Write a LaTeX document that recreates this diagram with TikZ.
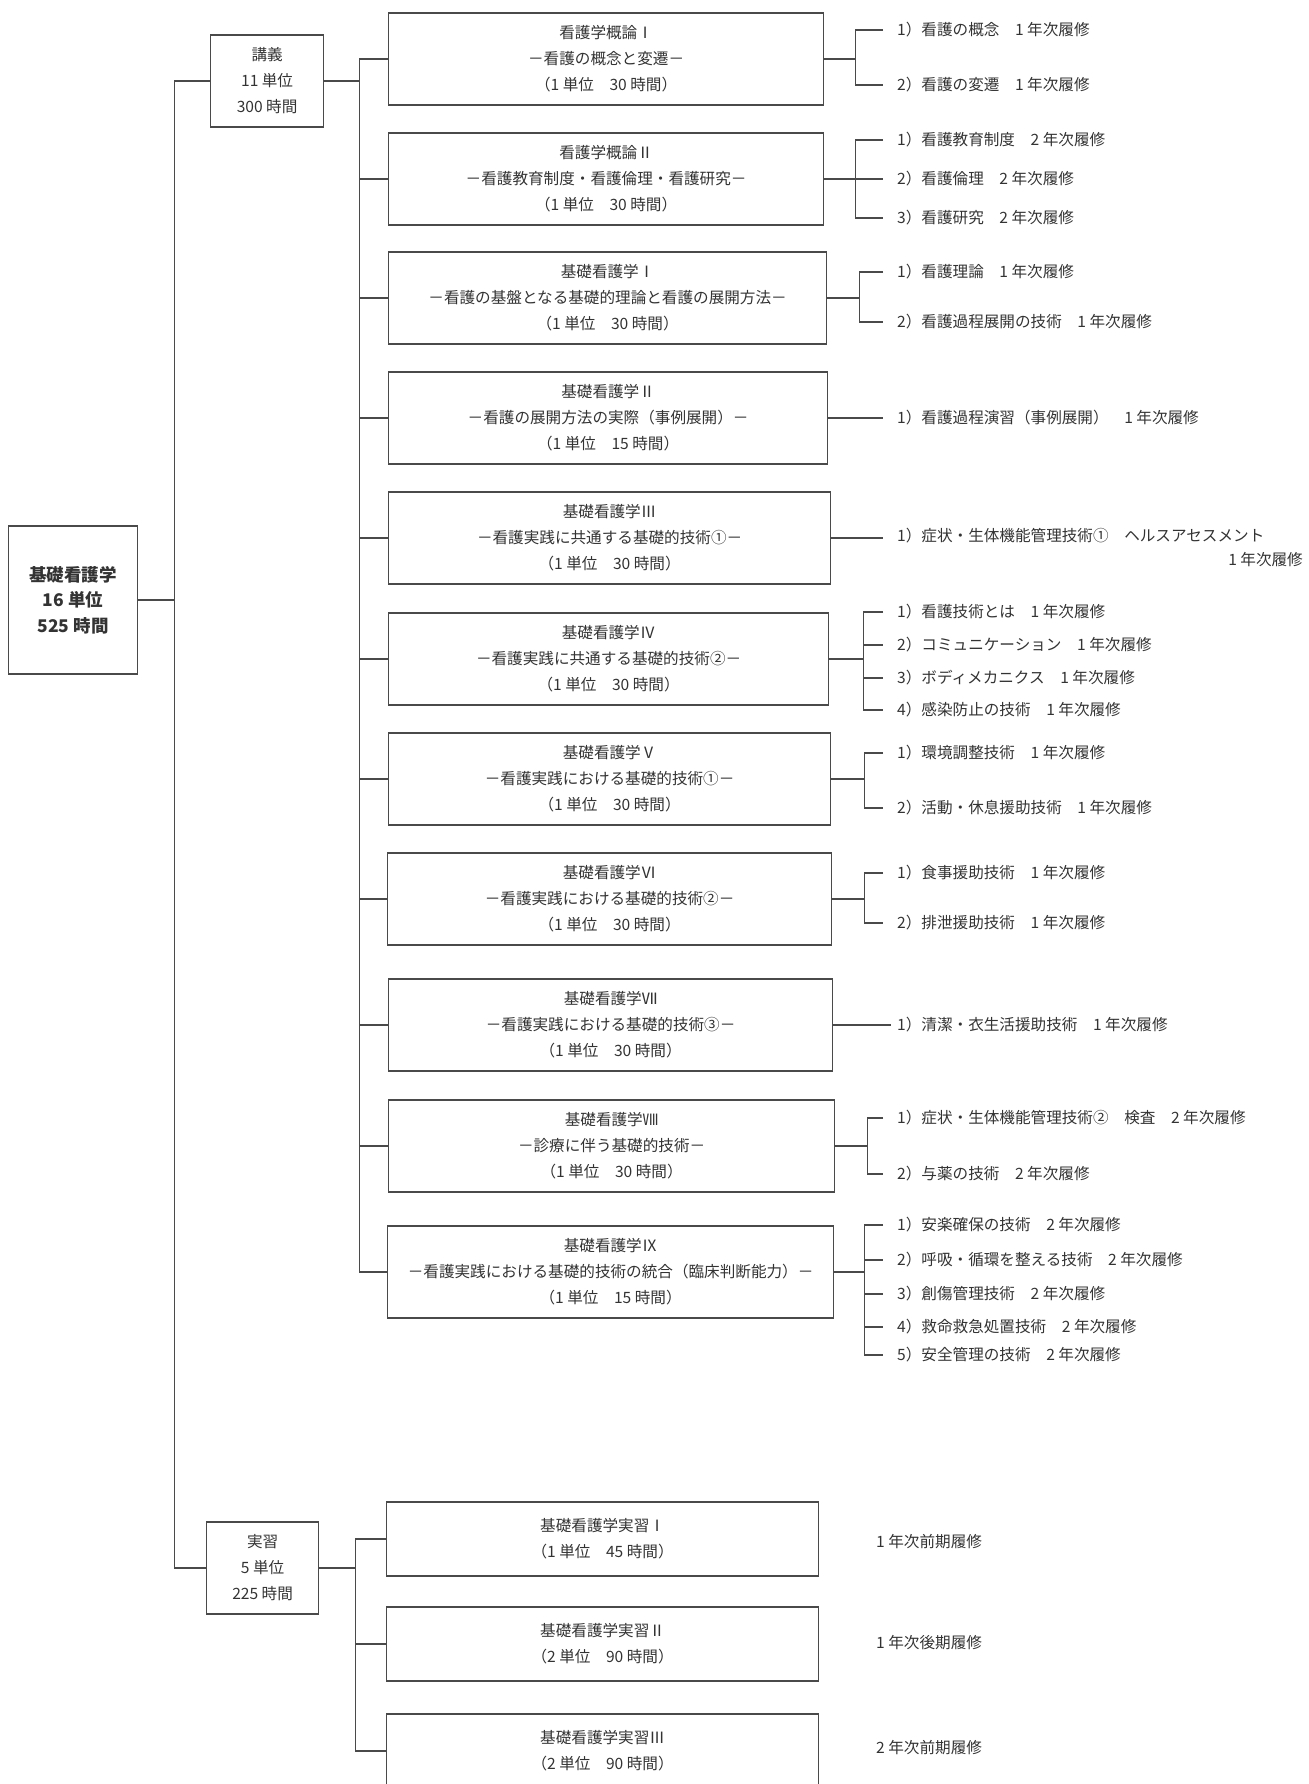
\documentclass[tikz,border=0pt]{standalone}
\usepackage{fontspec}
\setmainfont{Noto Sans CJK JP}
\usetikzlibrary{positioning}

\definecolor{senshoku}{HTML}{4A4A4A}
\definecolor{mojishoku}{HTML}{333333}

\tikzset{
  sen/.style={draw=senshoku, line width=1.1pt},
  waku/.style={draw=senshoku, line width=1.2pt, align=center, anchor=west,
    inner sep=2pt, text=mojishoku, font=\fontsize{15.6}{26}\selectfont},
  kamoku/.style={waku, minimum height=92pt},
  jisshubox/.style={waku, minimum height=74pt, minimum width=432pt},
  koumoku/.style={anchor=west, inner xsep=14pt, inner ysep=0pt, text=mojishoku,
    font=\fontsize{15.6}{20}\selectfont},
}

\begin{document}
\begin{tikzpicture}[x=1pt,y=-1pt]
\useasboundingbox (0,0) rectangle (1308,1784);

% root and the two branches
\node[waku, minimum width=129pt, minimum height=148pt,
  font=\fontsize{17.5}{25.5}\selectfont\bfseries] (kiso) at (8,600)
  {基礎看護学\\16 単位\\525 時間};
\node[kamoku, minimum width=113pt] (kogi) at (210,81) {講義\\11 単位\\300 時間};
\node[kamoku, minimum width=112pt] (jisshu) at (206,1568) {実習\\5 単位\\225 時間};

% lecture subjects
\node[kamoku, minimum width=435pt] (g1) at (388,59) {看護学概論Ⅰ\\－看護の概念と変遷－\\（1 単位　30 時間）};
\node[kamoku, minimum width=435pt] (g2) at (388,179) {看護学概論Ⅱ\\－看護教育制度・看護倫理・看護研究－\\（1 単位　30 時間）};
\node[kamoku, minimum width=438pt] (g3) at (388,298) {基礎看護学Ⅰ\\－看護の基盤となる基礎的理論と看護の展開方法－\\（1 単位　30 時間）};
\node[kamoku, minimum width=439pt] (g4) at (388,418) {基礎看護学Ⅱ\\－看護の展開方法の実際（事例展開）－\\（1 単位　15 時間）};
\node[kamoku, minimum width=442pt] (g5) at (388,538) {基礎看護学Ⅲ\\－看護実践に共通する基礎的技術①－\\（1 単位　30 時間）};
\node[kamoku, minimum width=440pt] (g6) at (388,659) {基礎看護学Ⅳ\\－看護実践に共通する基礎的技術②－\\（1 単位　30 時間）};
\node[kamoku, minimum width=442pt] (g7) at (388,779) {基礎看護学Ⅴ\\－看護実践における基礎的技術①－\\（1 単位　30 時間）};
\node[kamoku, minimum width=444pt] (g8) at (387,899) {基礎看護学Ⅵ\\－看護実践における基礎的技術②－\\（1 単位　30 時間）};
\node[kamoku, minimum width=444pt] (g9) at (388,1025) {基礎看護学Ⅶ\\－看護実践における基礎的技術③－\\（1 単位　30 時間）};
\node[kamoku, minimum width=446pt] (g10) at (388,1146) {基礎看護学Ⅷ\\－診療に伴う基礎的技術－\\（1 単位　30 時間）};
\node[kamoku, minimum width=446pt] (g11) at (387,1272) {基礎看護学Ⅸ\\－看護実践における基礎的技術の統合（臨床判断能力）－\\（1 単位　15 時間）};

% items
\node[koumoku] (g1a) at (883,30) {1）看護の概念　1 年次履修};
\node[koumoku] (g1b) at (883,85) {2）看護の変遷　1 年次履修};
\node[koumoku] (g2a) at (883,140) {1）看護教育制度　2 年次履修};
\node[koumoku] (g2b) at (883,179) {2）看護倫理　2 年次履修};
\node[koumoku] (g2c) at (883,218) {3）看護研究　2 年次履修};
\node[koumoku] (g3a) at (883,272) {1）看護理論　1 年次履修};
\node[koumoku] (g3b) at (883,322) {2）看護過程展開の技術　1 年次履修};
\node[koumoku] (g4a) at (883,418) {1）看護過程演習（事例展開）　1 年次履修};
\node[koumoku] (g5a) at (883,536) {1）症状・生体機能管理技術①　ヘルスアセスメント};
\node[koumoku, anchor=east, inner xsep=0pt] (g5y) at (1303,560) {1 年次履修};
\node[koumoku] (g6a) at (883,612) {1）看護技術とは　1 年次履修};
\node[koumoku] (g6b) at (883,645) {2）コミュニケーション　1 年次履修};
\node[koumoku] (g6c) at (883,678) {3）ボディメカニクス　1 年次履修};
\node[koumoku] (g6d) at (883,710) {4）感染防止の技術　1 年次履修};
\node[koumoku] (g7a) at (883,753) {1）環境調整技術　1 年次履修};
\node[koumoku] (g7b) at (883,808) {2）活動・休息援助技術　1 年次履修};
\node[koumoku] (g8a) at (883,873) {1）食事援助技術　1 年次履修};
\node[koumoku] (g8b) at (883,923) {2）排泄援助技術　1 年次履修};
\node[koumoku] (g9a) at (883,1025) {1）清潔・衣生活援助技術　1 年次履修};
\node[koumoku] (g10a) at (883,1118) {1）症状・生体機能管理技術②　検査　2 年次履修};
\node[koumoku] (g10b) at (883,1174) {2）与薬の技術　2 年次履修};
\node[koumoku] (g11a) at (883,1225) {1）安楽確保の技術　2 年次履修};
\node[koumoku] (g11b) at (883,1260) {2）呼吸・循環を整える技術　2 年次履修};
\node[koumoku] (g11c) at (883,1294) {3）創傷管理技術　2 年次履修};
\node[koumoku] (g11d) at (883,1327) {4）救命救急処置技術　2 年次履修};
\node[koumoku] (g11e) at (883,1355) {5）安全管理の技術　2 年次履修};

% practice subjects
\node[jisshubox] (p1) at (386,1539) {基礎看護学実習Ⅰ\\（1 単位　45 時間）};
\node[jisshubox] (p2) at (386,1644) {基礎看護学実習Ⅱ\\（2 単位　90 時間）};
\node[jisshubox] (p3) at (386,1751) {基礎看護学実習Ⅲ\\（2 単位　90 時間）};
\node[koumoku, inner xsep=0pt] (p1y) at (876,1542) {1 年次前期履修};
\node[koumoku, inner xsep=0pt] (p2y) at (876,1643) {1 年次後期履修};
\node[koumoku, inner xsep=0pt] (p3y) at (876,1748) {2 年次前期履修};

% tree lines
\draw[sen] (kiso.east) -- ++(36,0) coordinate (t0);
\draw[sen] (kogi.west) -| (t0) |- (jisshu.west);
\draw[sen] (kogi.east) -- ++(35,0) coordinate (t1);
\draw[sen] (t1 |- g1.west) -- (t1 |- g11.west);
\foreach \i in {1,...,11}
  \draw[sen] (g\i.west) -- (g\i.west -| t1);
\draw[sen] (jisshu.east) -- ++(36,0) coordinate (t2);
\draw[sen] (t2 |- p1.west) -- (t2 |- p3.west);
\foreach \i in {1,2,3}
  \draw[sen] (p\i.west) -- (p\i.west -| t2);

% brackets to the items
\draw[sen] (g1.east) -- ++(31,0) coordinate (b1);
\draw[sen] (g1a.west) -| (b1) |- (g1b.west);
\draw[sen] (g2.east) -- ++(31,0) coordinate (b2);
\draw[sen] (g2a.west) -| (b2) |- (g2c.west);
\draw[sen] (b2 |- g2b.west) -- (g2b.west);
\draw[sen] (g3.east) -- ++(32,0) coordinate (b3);
\draw[sen] (g3a.west) -| (b3) |- (g3b.west);
\draw[sen] (g4.east) -- (g4a.west);
\draw[sen] (g5.east) -- (g5.east -| g5a.west);
\draw[sen] (g6.east) -- ++(34,0) coordinate (b6);
\draw[sen] (g6a.west) -| (b6) |- (g6d.west);
\draw[sen] (b6 |- g6b.west) -- (g6b.west);
\draw[sen] (b6 |- g6c.west) -- (g6c.west);
\draw[sen] (g7.east) -- ++(33,0) coordinate (b7);
\draw[sen] (g7a.west) -| (b7) |- (g7b.west);
\draw[sen] (g8.east) -- ++(32,0) coordinate (b8);
\draw[sen] (g8a.west) -| (b8) |- (g8b.west);
\draw[sen] (g9.east) -- ++(58,0);
\draw[sen] (g10.east) -- ++(32,0) coordinate (b10);
\draw[sen] (g10a.west) -| (b10) |- (g10b.west);
\draw[sen] (g11.east) -- ++(30,0) coordinate (b11);
\draw[sen] (g11a.west) -| (b11) |- (g11e.west);
\draw[sen] (b11 |- g11b.west) -- (g11b.west);
\draw[sen] (b11 |- g11c.west) -- (g11c.west);
\draw[sen] (b11 |- g11d.west) -- (g11d.west);

\end{tikzpicture}
\end{document}
